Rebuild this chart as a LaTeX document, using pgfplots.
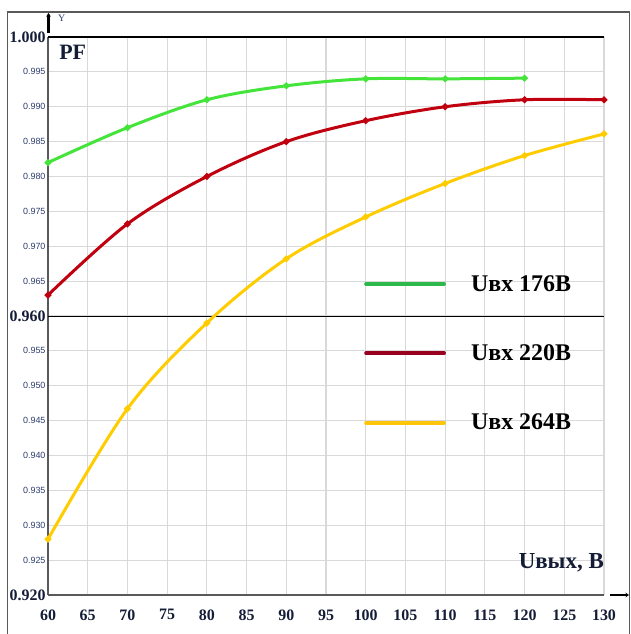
\documentclass[border=0pt]{standalone}
\usepackage{fontspec}
\setmainfont{Liberation Serif}
\newfontfamily\sansf{Liberation Sans}
\usepackage{pgfplots}
\pgfplotsset{compat=1.18}
\usetikzlibrary{arrows.meta}
\definecolor{gridc}{HTML}{D9D9D9}
\definecolor{labc}{HTML}{2E3D6E}
\definecolor{navy}{HTML}{141C36}
\definecolor{cgreen}{HTML}{44E43A}
\definecolor{cred}{HTML}{C0000F}
\definecolor{cyel}{HTML}{FFCC00}
\definecolor{lgreen}{HTML}{2DB84B}
\definecolor{lred}{HTML}{9A0020}
\definecolor{lyel}{HTML}{FFC50A}
\newcommand{\biglab}[1]{{\rmfamily\bfseries\fontsize{16}{16}\selectfont\color{navy}#1}}
\begin{document}
\begin{tikzpicture}[x=1bp,y=1bp]
\path[use as bounding box] (0,0) rectangle (631,634);
\draw[line width=1.3bp, black!65] (7.5,-2) -- (7.5,622) -- (629.5,622) -- (629.5,-2);
\begin{axis}[
  at={(48bp,39bp)}, anchor=south west,
  scale only axis, width=556bp, height=558bp,
  xmin=60, xmax=130, ymin=0.92, ymax=1.0,
  xtick={60,65,...,130},
  ytick={0.920,0.925,0.930,0.935,0.940,0.945,0.950,0.955,0.960,0.965,0.970,0.975,0.980,0.985,0.990,0.995,1.000},
  yticklabels={\biglab{0.920},0.925,0.930,0.935,0.940,0.945,0.950,0.955,\biglab{0.960},0.965,0.970,0.975,0.980,0.985,0.990,0.995,\biglab{1.000}},
  yticklabel style={font=\sansf\fontsize{9}{9}\selectfont, text=labc, xshift=1bp},
  xticklabel style={font=\rmfamily\bfseries\fontsize{16}{16}\selectfont, text=navy, yshift=-11bp},
  /pgf/number format/assume math mode=true,
  major tick length=0pt,
  grid=major,
  grid style={gridc, line width=1.1bp},
  axis lines*=left,
  axis line style={black!65, line width=1.3bp},
  legend style={at={(0.5683,0.577)}, anchor=north west, draw=none, fill=none,
    font=\rmfamily\bfseries\fontsize{24}{24}\selectfont, row sep=48bp, inner sep=0pt,
    nodes={inner sep=2bp}},
  legend cell align=left,
  legend image code/.code={\draw[#1, line width=3.8bp, line cap=round] (0bp,0bp) -- (78bp,0bp); \path[draw=none,fill=none] (0bp,0bp) -- (103bp,0bp);},
  clip=false,
]
\addplot[black, line width=1.1bp, forget plot] coordinates {(60,1.0) (130,1.0)};
\addplot[black, line width=0.9bp, forget plot] coordinates {(60,0.96) (130,0.96)};
\addplot[cgreen, line width=3bp, smooth, tension=0.55, mark=*, mark size=1.6bp, forget plot] coordinates {
 (60,0.982) (70,0.987) (80,0.991) (90,0.993) (100,0.994) (110,0.994) (120,0.9941)};
\addplot[cred, line width=3bp, smooth, tension=0.55, mark=*, mark size=1.6bp, forget plot] coordinates {
 (60,0.963) (70,0.9732) (80,0.980) (90,0.985) (100,0.988) (110,0.990) (120,0.991) (130,0.991)};
\addplot[cyel, line width=3bp, smooth, tension=0.55, mark=*, mark size=1.6bp, forget plot] coordinates {
 (60,0.928) (70,0.9467) (80,0.959) (90,0.9682) (100,0.9742) (110,0.979) (120,0.983) (130,0.9861)};
\addlegendimage{lgreen}
\addlegendimage{lred}
\addlegendimage{lyel}
\legend{Uвх 176В, Uвх 220В, Uвх 264В}
\node[anchor=north west, font=\rmfamily\bfseries\fontsize{22}{22}\selectfont, text=navy, inner sep=0pt] at (rel axis cs:0.020,0.9856) {PF};
\node[anchor=base east, font=\rmfamily\bfseries\fontsize{23}{23}\selectfont, text=navy, inner sep=0pt] at (rel axis cs:1.0,0.0466) {Uвых, В};
\end{axis}
\draw[line width=2.6bp, -{Stealth[length=3.5bp,width=4.5bp]}] (610,39) -- (629,39);
\draw[line width=2.6bp, -{Stealth[length=3.5bp,width=4.5bp]}] (48.5,601) -- (48.5,621);
\node[anchor=base west, font=\rmfamily\fontsize{10}{10}\selectfont, text=labc, inner sep=0pt] at (58,612) {Y};
\end{tikzpicture}
\end{document}
